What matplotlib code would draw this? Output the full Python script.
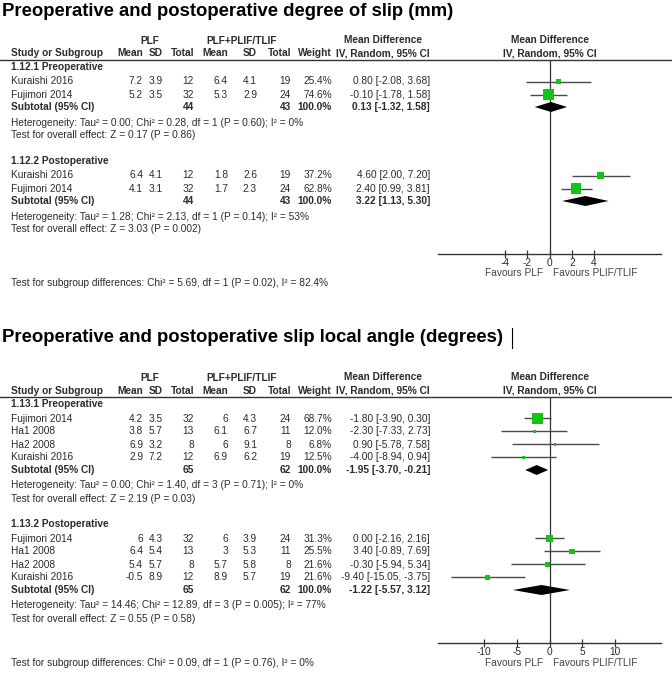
import numpy as np
import matplotlib
matplotlib.use('Agg')
import matplotlib.pyplot as plt

matplotlib.rcParams['font.family'] = ['Liberation Sans', 'DejaVu Sans']
matplotlib.rcParams['axes.unicode_minus'] = False

W, H = 672, 678
fs = 7.25
txt_c = '#2b2b2b'
green = '#14c414'

# ---------------- degree of slip (mm) ----------------
slip_title = "Preoperative and postoperative degree of slip (mm)"
slip_groups = ["1.12.1 Preoperative", "1.12.2 Postoperative"]
slip_study = [["Kuraishi 2016", "Fujimori 2014"], ["Kuraishi 2016", "Fujimori 2014"]]
slip_plf_mean = [[7.2, 5.2], [6.4, 4.1]]
slip_plf_sd = [[3.9, 3.5], [4.1, 3.1]]
slip_plf_n = [[12, 32], [12, 32]]
slip_fus_mean = [[6.4, 5.3], [1.8, 1.7]]
slip_fus_sd = [[4.1, 2.9], [2.6, 2.3]]
slip_fus_n = [[19, 24], [19, 24]]
slip_weight = [[25.4, 74.6], [37.2, 62.8]]
slip_md = [[0.80, -0.10], [4.60, 2.40]]
slip_lo = [[-2.08, -1.78], [2.00, 0.99]]
slip_hi = [[3.68, 1.58], [7.20, 3.81]]
slip_sub_md = [0.13, 3.22]
slip_sub_lo = [-1.32, 1.13]
slip_sub_hi = [1.58, 5.30]
slip_het = ["Heterogeneity: Tau² = 0.00; Chi² = 0.28, df = 1 (P = 0.60); I² = 0%",
            "Heterogeneity: Tau² = 1.28; Chi² = 2.13, df = 1 (P = 0.14); I² = 53%"]
slip_overall = ["Test for overall effect: Z = 0.17 (P = 0.86)",
                "Test for overall effect: Z = 3.03 (P = 0.002)"]
slip_diff = "Test for subgroup differences: Chi² = 5.69, df = 1 (P = 0.02), I² = 82.4%"
slip_ticks = [-4, -2, 0, 2, 4]
slip_xlim = (-10, 10)

# ---------------- slip local angle (degrees) ----------------
angle_title = "Preoperative and postoperative slip local angle (degrees)"
angle_groups = ["1.13.1 Preoperative", "1.13.2 Postoperative"]
angle_study = [["Fujimori 2014", "Ha1 2008", "Ha2 2008", "Kuraishi 2016"],
               ["Fujimori 2014", "Ha1 2008", "Ha2 2008", "Kuraishi 2016"]]
angle_plf_mean = [[4.2, 3.8, 6.9, 2.9], [6, 6.4, 5.4, -0.5]]
angle_plf_sd = [[3.5, 5.7, 3.2, 7.2], [4.3, 5.4, 5.7, 8.9]]
angle_plf_n = [[32, 13, 8, 12], [32, 13, 8, 12]]
angle_fus_mean = [[6, 6.1, 6, 6.9], [6, 3, 5.7, 8.9]]
angle_fus_sd = [[4.3, 6.7, 9.1, 6.2], [3.9, 5.3, 5.8, 5.7]]
angle_fus_n = [[24, 11, 8, 19], [24, 11, 8, 19]]
angle_weight = [[68.7, 12.0, 6.8, 12.5], [31.3, 25.5, 21.6, 21.6]]
angle_md = [[-1.80, -2.30, 0.90, -4.00], [0.00, 3.40, -0.30, -9.40]]
angle_lo = [[-3.90, -7.33, -5.78, -8.94], [-2.16, -0.89, -5.94, -15.05]]
angle_hi = [[0.30, 2.73, 7.58, 0.94], [2.16, 7.69, 5.34, -3.75]]
angle_sub_md = [-1.95, -1.22]
angle_sub_lo = [-3.70, -5.57]
angle_sub_hi = [-0.21, 3.12]
angle_het = ["Heterogeneity: Tau² = 0.00; Chi² = 1.40, df = 3 (P = 0.71); I² = 0%",
             "Heterogeneity: Tau² = 14.46; Chi² = 12.89, df = 3 (P = 0.005); I² = 77%"]
angle_overall = ["Test for overall effect: Z = 2.19 (P = 0.03)",
                 "Test for overall effect: Z = 0.55 (P = 0.58)"]
angle_diff = "Test for subgroup differences: Chi² = 0.09, df = 1 (P = 0.76), I² = 0%"
angle_ticks = [-10, -5, 0, 5, 10]
angle_xlim = (-17, 17)

fig = plt.figure(figsize=(W / 100, H / 100), dpi=100)
tab = fig.add_axes([0, 0, 1, 1])
tab.set_xlim(0, W)
tab.set_ylim(H, 0)
tab.axis('off')

# column right edges (px)
cols = [143, 163, 194, 228, 257, 291, 332]
hdrs = ["Mean", "SD", "Total", "Mean", "SD", "Total", "Weight"]
x_lab = 11
x_md = 430
fx0, fx1 = 438, 661


def t(x, y, s, ha='left', bold=False, **kw):
    tab.text(x, y, s, ha=ha, va='center', fontsize=kw.pop('size', fs),
             fontweight='bold' if bold else 'normal', color=kw.pop('color', txt_c), **kw)


def fmt(v):
    return "{:g}".format(v)


def ci_txt(m, l, h):
    return "{:.2f} [{:.2f}, {:.2f}]".format(m, l, h)


def draw_panel(line_y, title_y, diff_y, title, groups, study, pm, psd, pn, fm, fsd, fn,
               wt, md, lo, hi, smd, slo, shi, het, ov, diff, ticks, xlim):
    tab.text(2, title_y, title, ha='left', va='center', fontsize=13.3,
             fontweight='bold', color='black')
    # headers
    t(150, line_y - 19, "PLF", ha='center', bold=True)
    t(242, line_y - 19, "PLF+PLIF/TLIF", ha='center', bold=True)
    t(383, line_y - 20, "Mean Difference", ha='center', bold=True)
    t(550, line_y - 20, "Mean Difference", ha='center', bold=True)
    t(x_lab, line_y - 6.5, "Study or Subgroup", bold=True)
    for cx, h in zip(cols, hdrs):
        t(cx, line_y - 6.5, h, ha='right', bold=True)
    t(383, line_y - 6.5, "IV, Random, 95% CI", ha='center', bold=True)
    t(550, line_y - 6.5, "IV, Random, 95% CI", ha='center', bold=True)
    tab.plot([0, W], [line_y, line_y], color='#333333', lw=1.0)

    rows = []
    y = line_y + 7
    for g in range(len(groups)):
        t(x_lab, y, groups[g], bold=True)
        y += 14.5
        ys = []
        for i in range(len(study[g])):
            vals = [fmt(pm[g][i]), fmt(psd[g][i]), str(pn[g][i]), fmt(fm[g][i]),
                    fmt(fsd[g][i]), str(fn[g][i]), "{:.1f}%".format(wt[g][i])]
            t(x_lab, y, study[g][i])
            for cx, v in zip(cols, vals):
                t(cx, y, v, ha='right')
            t(x_md, y, ci_txt(md[g][i], lo[g][i], hi[g][i]), ha='right')
            ys.append(y)
            y += 13
        y -= 0.5
        t(x_lab, y, "Subtotal (95% CI)", bold=True)
        t(cols[2], y, str(sum(pn[g])), ha='right', bold=True)
        t(cols[5], y, str(sum(fn[g])), ha='right', bold=True)
        t(cols[6], y, "100.0%", ha='right', bold=True)
        t(x_md, y, ci_txt(smd[g], slo[g], shi[g]), ha='right', bold=True)
        rows.append((ys, y))
        y += 15.5
        t(x_lab, y, het[g])
        y += 13
        t(x_lab, y, ov[g])
        last = y
        y += 25.5
    axis_y = last + 24.5

    ax = fig.add_axes([fx0 / W, 1 - axis_y / H, (fx1 - fx0) / W, (axis_y - line_y) / H])
    ax.set_xlim(*xlim)
    ax.set_ylim(axis_y, line_y)
    ax.patch.set_alpha(0)
    for s in ['top', 'left', 'right']:
        ax.spines[s].set_visible(False)
    ax.spines['bottom'].set_color('#333333')
    ax.spines['bottom'].set_linewidth(1.0)
    ax.set_yticks([])
    ax.set_xticks(ticks)
    ax.set_xticklabels([str(v) for v in ticks])
    ax.tick_params(axis='x', direction='inout', length=6, width=0.9, colors='#333333',
                   labelsize=fs, pad=0, labelcolor=txt_c)
    ax.axvline(0, color='#333333', lw=0.9, zorder=1)

    for g, (ys, sy) in enumerate(rows):
        ax.hlines(ys, lo[g], hi[g], color='#4a4a4a', lw=1.0, zorder=2)
        side = 0.56 * np.array(wt[g]) ** 0.7 * 0.72
        ax.scatter(md[g], ys, s=side ** 2, marker='s', color=green, lw=0, zorder=3)
        ax.fill([slo[g], smd[g], shi[g], smd[g]], [sy, sy - 5, sy, sy + 5],
                color='black', lw=0, zorder=3)

    t(543, axis_y + 19.5, "Favours PLF", ha='right', color='#444444')
    t(553, axis_y + 19.5, "Favours PLIF/TLIF", ha='left', color='#444444')
    t(x_lab, diff_y, diff)


draw_panel(60, 11, 283, slip_title, slip_groups, slip_study, slip_plf_mean, slip_plf_sd,
           slip_plf_n, slip_fus_mean, slip_fus_sd, slip_fus_n, slip_weight, slip_md,
           slip_lo, slip_hi, slip_sub_md, slip_sub_lo, slip_sub_hi, slip_het,
           slip_overall, slip_diff, slip_ticks, slip_xlim)

draw_panel(397, 338, 663, angle_title, angle_groups, angle_study, angle_plf_mean,
           angle_plf_sd, angle_plf_n, angle_fus_mean, angle_fus_sd, angle_fus_n,
           angle_weight, angle_md, angle_lo, angle_hi, angle_sub_md, angle_sub_lo,
           angle_sub_hi, angle_het, angle_overall, angle_diff, angle_ticks, angle_xlim)

# text cursor after the second title
tab.plot([512, 512], [328, 348], color='black', lw=0.8)

fig.savefig('out.png', dpi=100)
